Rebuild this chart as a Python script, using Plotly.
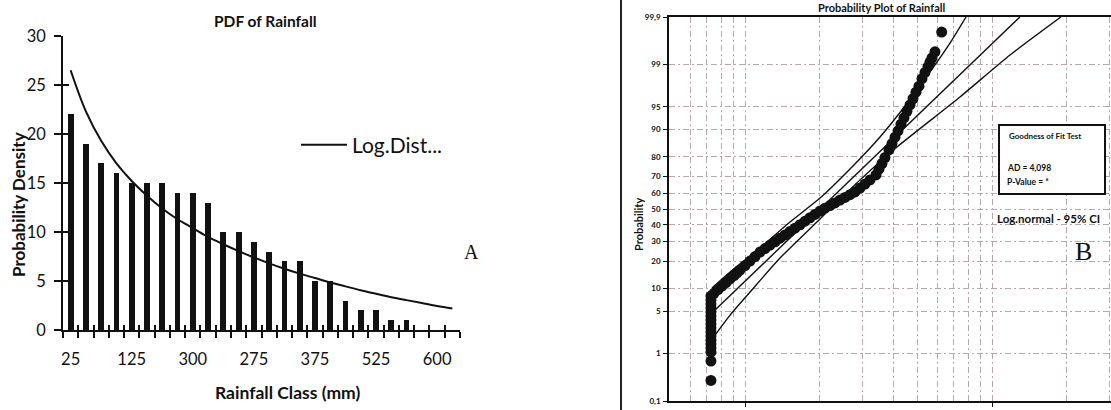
import plotly.graph_objects as go
from statistics import NormalDist

# ---------------- Panel A : PDF of Rainfall ----------------
class_labels = ["25", "125", "300", "275", "375", "525", "600"]
label_positions = [0, 4, 8, 12, 16, 20, 24]
bar_values = [22, 19, 17, 16, 15, 15, 15, 14, 14, 13, 10, 10, 9, 8, 7, 7,
              5, 5, 3, 2, 2, 1, 1, 0, 0, 0]
curve_values = [26.5, 22.3, 19.3, 17.0, 15.2, 13.7, 12.4, 11.3, 10.4, 9.5,
                8.75, 8.05, 7.4, 6.8, 6.25, 5.75, 5.3, 4.85, 4.45, 4.05,
                3.7, 3.35, 3.05, 2.75, 2.45, 2.2]
density_ticks = [0, 5, 10, 15, 20, 25, 30]

# ---------------- Panel B : Probability plot ----------------
prob_ticks = [0.1, 1, 5, 10, 20, 30, 40, 50, 60, 70, 80, 90, 95, 99, 99.9]
prob_tick_labels = ["0,1", "1", "5", "10", "20", "30", "40", "50", "60",
                    "70", "80", "90", "95", "99", "99,9"]
x_major = [1, 10]
x_minor = [0.6, 0.7, 0.8, 0.9, 2, 3, 4, 5, 6, 7, 8, 9, 20, 30]

rain_x = [0.728, 0.728, 0.728, 0.728, 0.728, 0.728, 0.728, 0.728, 0.728,
          0.728, 0.728, 0.728, 0.728, 0.728, 0.728, 0.728, 0.728,
          0.749, 0.777, 0.807, 0.838, 0.870, 0.903, 0.928, 0.954,
          1.000, 1.048, 1.098, 1.150, 1.205, 1.262, 1.323, 1.386, 1.452,
          1.521, 1.594, 1.670, 1.750, 1.833, 1.920, 2.012, 2.108, 2.209,
          2.314, 2.424, 2.540, 2.661, 2.788, 2.922, 3.061, 3.207, 3.391,
          3.487, 3.586, 3.687, 3.828, 3.937, 4.049, 4.164, 4.281, 4.402,
          4.527, 4.656, 4.788, 4.923, 5.063, 5.206, 5.354, 5.507, 5.610,
          5.716, 5.876, 6.256]
rain_p = [0.29, 0.72, 1.06, 1.26, 1.49, 1.74, 2.04, 2.38, 2.77, 3.20, 3.70,
          4.24, 4.86, 5.55, 6.30, 7.14, 8.06,
          8.73, 9.69, 10.7, 11.8, 13.0, 14.2, 15.2, 16.3,
          18.1, 20.1, 22.2, 24.4, 26.2, 28.0, 29.9, 31.9, 33.8, 35.9, 37.9,
          40.0, 42.2, 44.4, 46.5, 48.7, 50.5, 52.2, 53.9, 55.7, 57.4, 59.1,
          60.8, 63.2, 65.6, 68.0, 70.8, 73.9, 76.8, 79.6, 82.9, 85.4, 87.6,
          89.6, 91.4, 92.9, 94.2, 95.3, 96.2, 97.0, 97.6, 98.2, 98.6, 98.9,
          99.1, 99.25, 99.43, 99.78]
fit_x = [0.742, 12.97]
fit_p = [4.86, 99.9]
ci_left_x = [0.735, 0.870, 1.150, 1.521, 2.012, 2.736, 3.521, 4.444, 5.61,
             6.76, 7.85]
ci_left_p = [10.17, 15.5, 26.5, 41.7, 57.0, 75.6, 87.7, 95.14, 98.63,
             99.62, 99.9]
ci_right_x = [0.756, 0.870, 1.048, 1.386, 2.012, 2.922, 4.125, 7.42, 11.83,
              19.0]
ci_right_p = [2.12, 4.39, 9.07, 21.5, 43.6, 68.0, 84.1, 96.43, 99.34, 99.9]

W, H = 1111, 410
nd = NormalDist()


def z(plist):
    return [nd.inv_cdf(p / 100.0) for p in plist]


def px(x):
    return x / W


def py(y):
    return 1 - y / H


INK = "#111111"
FONT = "Lato"

cats = list(range(len(bar_values)))
bounds = [c - 0.5 for c in cats] + [cats[-1] + 0.5]

fig = go.Figure()

# Panel A
fig.add_trace(go.Bar(x=cats, y=bar_values, width=0.38, marker_color=INK,
                     marker_line_width=0, showlegend=False,
                     xaxis="x", yaxis="y"))
fig.add_trace(go.Scatter(x=cats, y=curve_values, mode="lines",
                         line=dict(color=INK, width=2, shape="spline"),
                         name="Log.Dist...", showlegend=True,
                         xaxis="x", yaxis="y"))
fig.add_trace(go.Scatter(x=[None], y=[None], xaxis="x3", yaxis="y",
                         showlegend=False, hoverinfo="skip"))
fig.add_trace(go.Scatter(x=[None], y=[None], xaxis="x", yaxis="y3",
                         showlegend=False, hoverinfo="skip"))

# Panel B
line_style = dict(color=INK, width=1.4)
fig.add_trace(go.Scatter(x=ci_left_x, y=z(ci_left_p), mode="lines",
                         line=dict(**line_style, shape="spline", smoothing=0.6),
                         showlegend=False, xaxis="x2", yaxis="y2"))
fig.add_trace(go.Scatter(x=ci_right_x, y=z(ci_right_p), mode="lines",
                         line=dict(**line_style, shape="spline", smoothing=0.6),
                         showlegend=False, xaxis="x2", yaxis="y2"))
fig.add_trace(go.Scatter(x=fit_x, y=z(fit_p), mode="lines",
                         line=line_style, showlegend=False,
                         xaxis="x2", yaxis="y2"))
fig.add_trace(go.Scatter(x=rain_x, y=z(rain_p), mode="markers",
                         marker=dict(color=INK, size=11, line=dict(width=0)),
                         showlegend=False, xaxis="x2", yaxis="y2"))

domA_x = [px(63), px(460)]
domA_y = [py(330), py(36)]
domB_x = [px(669), 1.0]
domB_y = [py(401), py(17)]

grid_col = "#b4a8a8"
grid_dash = "6px,3px,2px,3px"

fig.update_layout(
    template="none",
    width=W, height=H,
    margin=dict(l=0, r=0, t=0, b=0, pad=0),
    paper_bgcolor="white", plot_bgcolor="white",
    font=dict(family=FONT, color=INK),
    bargap=0,
    xaxis=dict(domain=domA_x, anchor="y", range=[-0.5, len(cats) - 0.5],
               automargin=False,
               tickmode="array", tickvals=label_positions, ticktext=class_labels,
               ticks="", showline=True, linecolor=INK, linewidth=1.5,
               showgrid=False, zeroline=False,
               tickfont=dict(family=FONT, size=16.5, color=INK),
               ticklabelstandoff=13,
               minor=dict(tickmode="array", tickvals=bounds, ticks="outside",
                          ticklen=6, tickwidth=1.5, tickcolor=INK,
                          showgrid=False)),
    xaxis3=dict(overlaying="x", anchor="y", range=[-0.5, len(cats) - 0.5],
                automargin=False,
                tickmode="array", tickvals=bounds, ticks="inside", ticklen=5,
                tickwidth=1.5, tickcolor=INK, showticklabels=False,
                showline=False, showgrid=False, zeroline=False),
    yaxis=dict(domain=domA_y, anchor="x", range=[0, 30], automargin=False,
               tickmode="array", tickvals=density_ticks, ticks="outside",
               ticklen=7, tickwidth=1.5, tickcolor=INK,
               showline=True, linecolor=INK, linewidth=1.5,
               showgrid=False, zeroline=False,
               tickfont=dict(family=FONT, size=16.5, color=INK),
               ticklabelstandoff=5),
    yaxis3=dict(overlaying="y", anchor="x", side="left", range=[0, 30],
                automargin=False,
                tickmode="array", tickvals=density_ticks, ticks="inside",
                ticklen=6, tickwidth=1.5, tickcolor=INK,
                showticklabels=False, showline=False, showgrid=False,
                zeroline=False),
    xaxis2=dict(domain=domB_x, anchor="y2", type="log",
                range=[-0.3077, 1.4818], automargin=False,
                tickmode="array", tickvals=x_major, ticks="outside",
                ticklen=4, tickwidth=1.2, tickcolor=INK, showticklabels=False,
                showline=True, linecolor=INK, linewidth=1.6, mirror=True,
                showgrid=True, gridcolor=grid_col, gridwidth=1,
                griddash=grid_dash, zeroline=False,
                minor=dict(tickmode="array", tickvals=x_minor, ticks="",
                           showgrid=True, gridcolor=grid_col, gridwidth=1,
                           griddash=grid_dash)),
    yaxis2=dict(domain=domB_y, anchor="x2",
                range=[nd.inv_cdf(0.001), nd.inv_cdf(0.999)],
                automargin=False,
                tickmode="array", tickvals=z(prob_ticks),
                ticktext=prob_tick_labels, ticks="outside", ticklen=4,
                tickwidth=1.2, tickcolor=INK,
                showline=True, linecolor=INK, linewidth=1.6,
                showgrid=True, gridcolor=grid_col, gridwidth=1,
                griddash=grid_dash, zeroline=False,
                tickfont=dict(family=FONT, size=8, color=INK, weight="bold"),
                ticklabelstandoff=1),
    legend=dict(x=px(296), y=py(145), xanchor="left", yanchor="middle",
                font=dict(family=FONT, size=21, color=INK),
                bgcolor="rgba(0,0,0,0)", borderwidth=0, itemwidth=46),
)


def note(x, y, text, size, bold=False, family=FONT, angle=0, xanchor="center"):
    f = dict(family=family, size=size, color=INK)
    if bold:
        f["weight"] = "bold"
    return dict(x=px(x), y=py(y), xref="paper", yref="paper", text=text,
                showarrow=False, xanchor=xanchor, yanchor="middle",
                textangle=angle, font=f)


ann = [
    note(265, 21, "PDF of Rainfall", 15.5, bold=True),
    note(287, 392, "Rainfall Class (mm)", 17.5, bold=True),
    note(18, 205, "Probability Density", 17, bold=True, angle=-90),
    note(471, 252, "A", 20, family="Liberation Serif"),
    note(881, 7, "Probability Plot of Rainfall", 11, bold=True),
    note(638, 225, "Probability", 11, bold=True, angle=-90),
    note(1007, 136, "Goodness of Fit Test", 8, bold=True, xanchor="left"),
    note(1005, 168, "AD = 4,098", 8.5, bold=True, xanchor="left"),
    note(1005, 182, "P-Value = *", 8.5, bold=True, xanchor="left"),
    note(1048, 218, "Log.normal - 95% CI", 11.5, bold=True),
    note(1083, 251, "B", 26, family="Liberation Serif"),
]
fig.update_layout(annotations=ann)

fig.update_layout(shapes=[
    dict(type="rect", xref="paper", yref="paper",
         x0=px(999), x1=px(1105), y0=py(194), y1=py(125),
         line=dict(color=INK, width=2), fillcolor="white", layer="above"),
    dict(type="line", xref="paper", yref="paper",
         x0=px(621), x1=px(621), y0=0, y1=1,
         line=dict(color="#222222", width=2)),
])

fig.write_html("out.html", config={"displayModeBar": False},
               post_script="document.body.style.margin='0';"
                           "document.body.style.padding='0';")
